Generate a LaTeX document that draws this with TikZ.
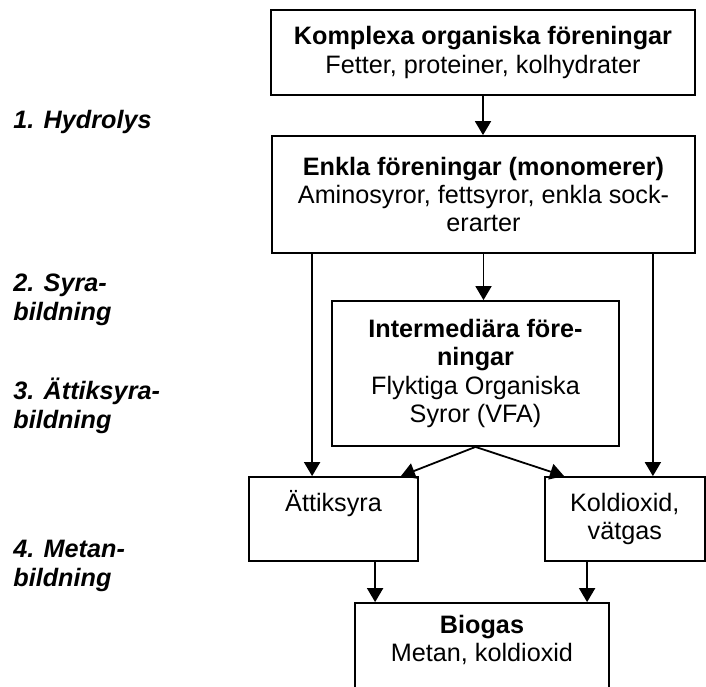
\documentclass[tikz,border=0pt]{standalone}
\usepackage{fontspec}
\setmainfont{Liberation Sans}
\usetikzlibrary{arrows.meta}

\tikzset{
    box/.style={draw, line width=0.9pt, rectangle, inner sep=0pt, align=center,
        font=\fontsize{12.6}{14.2}\selectfont},
    stage/.style={anchor=west, inner sep=0pt, align=left,
        font=\fontsize{12.6}{14.2}\selectfont\bfseries\itshape},
    flow/.style={line width=0.9pt, -{Triangle[length=7pt,width=8pt]}}
}

\begin{document}
\begin{tikzpicture}[x=1pt,y=-1pt]
    \useasboundingbox (0,0) rectangle (353,343);

    \node[box, minimum width=212pt, minimum height=42.5pt] (komplexa) at (241.5,26.25)
        {\textbf{Komplexa organiska föreningar}\\Fetter, proteiner, kolhydrater};
    \node[box, minimum width=211.5pt, minimum height=58.5pt] (enkla) at (241.75,97.25)
        {\textbf{Enkla föreningar (monomerer)}\\Aminosyror, fettsyror, enkla sock-\\erarter};
    \node[box, minimum width=143.5pt, minimum height=72.5pt] (vfa) at (237.75,186.75)
        {\textbf{Intermediära före-}\\\textbf{ningar}\\Flyktiga Organiska\\Syror (VFA)};
    \node[box, minimum width=84.5pt, minimum height=42pt] (attik) at (166.75,259.5)
        {Ättiksyra\\\strut};
    \node[box, minimum width=79.8pt, minimum height=42pt] (koldioxid) at (312.4,259.5)
        {Koldioxid,\\vätgas};
    \node[box, minimum width=127pt, minimum height=54pt] (biogas) at (241,328.5)
        {\textbf{Biogas}\\Metan, koldioxid\\\strut};

    \node[stage] (hydrolys) at (6.5,61) {1. Hydrolys};
    \node[stage] (syra) at (6.5,150) {2. Syra-\\bildning};
    \node[stage] (attikbild) at (6.5,203) {3. Ättiksyra-\\bildning};
    \node[stage] (metan) at (6.5,283) {4. Metan-\\bildning};

    \draw[flow] (komplexa.south) -- (komplexa.south |- enkla.north);
    \draw[flow] (enkla.south) -- (enkla.south |- vfa.north);
    \draw[flow] ([xshift=20.5pt]enkla.south west) -- ([xshift=20.5pt]enkla.south west |- attik.north);
    \draw[flow] ([xshift=-21.5pt]enkla.south east) -- ([xshift=-21.5pt]enkla.south east |- koldioxid.north);
    \draw[flow] (vfa.south) -- ([xshift=-9pt]attik.north east);
    \draw[flow] (vfa.south) -- ([xshift=10pt]koldioxid.north west);
    \draw[flow] ([xshift=63.5pt]attik.south west) -- ([xshift=63.5pt]attik.south west |- biogas.north);
    \draw[flow] ([xshift=21.5pt]koldioxid.south west) -- ([xshift=21.5pt]koldioxid.south west |- biogas.north);
\end{tikzpicture}
\end{document}
